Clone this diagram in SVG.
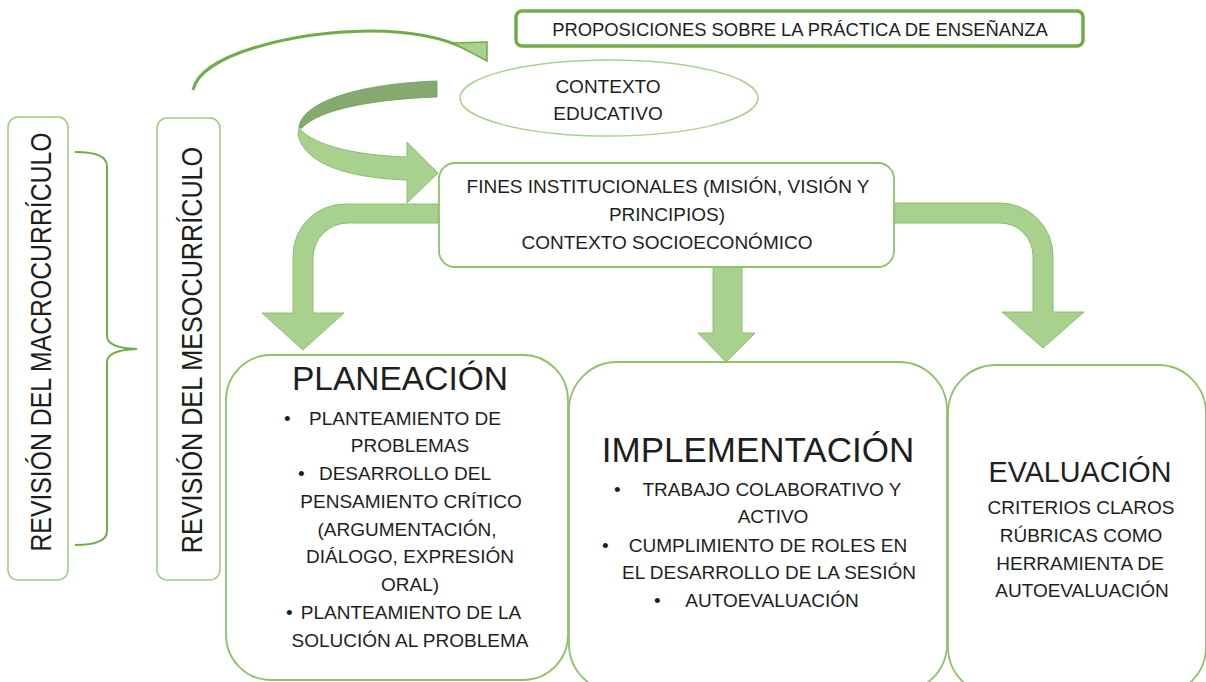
<svg xmlns="http://www.w3.org/2000/svg" width="1206" height="682" viewBox="0 0 1206 682">
<style>
.t{font-family:"Liberation Sans",Arial,sans-serif;fill:#1e1e1e}
.s{font-size:19px}
.m{text-anchor:middle}
.box{fill:#fff;stroke:#8DC26B;stroke-width:1.8}
.arr{fill:#A9D18E;stroke:#8CBF6C;stroke-width:1}
</style>
<rect width="1206" height="682" fill="#fff"/>

<g id="connectors">
  <path d="M193,90 C200,55 290,32 370,31 C415,31 445,38 468,50" fill="none" stroke="#70AD47" stroke-width="3"/>
  <polygon points="453,43 487,42 487,61" fill="#A9D18E" stroke="#70AD47" stroke-width="1.5"/>
  <path d="M437,81 L437,97 C380,99 320,108 302,128 L299,128 C300,105 350,84 437,81 Z" fill="#86A970" stroke="#739B5B" stroke-width="0.8"/>
  <path d="M299,128 C310,142 345,155 407,157 L407,142 L438,173 L407,203 L407,180 C350,178 305,165 298,135 Z" class="arr"/>
  <path d="M438,204 L345,204 A52,52 0 0 0 293,256 L293,313 L262,313 L303,350 L344,313 L313,313 L313,258 A35,35 0 0 1 348,223 L438,223 Z" class="arr"/>
  <path d="M713,267 L742,267 L742,333 L755,333 L726,362 L698,333 L713,333 Z" class="arr"/>
  <path d="M895,203 L1000,203 A53,53 0 0 1 1053,256 L1053,312 L1084,312 L1043,348 L1002,312 L1033,312 L1033,256 A33,33 0 0 0 1000,223 L895,223 Z" class="arr"/>
  <path d="M75,152 Q107,152 107,166 L107,336 Q107,348 137,349 Q107,350 107,362 L107,531 Q107,545 75,545" fill="none" stroke="#70AD47" stroke-width="2"/>
</g>

<g id="proposiciones">
  <rect x="516" y="11" width="567" height="35" rx="6" fill="#fff" stroke="#70AD47" stroke-width="3.5"/>
  <text class="t m" x="800" y="36" font-size="18.4">PROPOSICIONES SOBRE LA PRÁCTICA DE ENSEÑANZA</text>
</g>

<g id="contexto">
  <ellipse cx="609" cy="98" rx="149" ry="38" fill="#fff" stroke="#A9D18E" stroke-width="1.5"/>
  <text class="t s m" x="608" y="93">CONTEXTO</text>
  <text class="t s m" x="608" y="120">EDUCATIVO</text>
</g>

<g id="fines">
  <rect x="439" y="163" width="455" height="104" rx="16" class="box"/>
  <text class="t s m" x="668" y="193">FINES INSTITUCIONALES (MISIÓN, VISIÓN Y</text>
  <text class="t s m" x="667" y="221">PRINCIPIOS)</text>
  <text class="t s m" x="667" y="249">CONTEXTO SOCIOECONÓMICO</text>
</g>

<g id="macro">
  <rect x="8" y="117" width="60" height="463" rx="10" fill="#fff" stroke="#9CCB7F" stroke-width="1.5"/>
  <text class="t m" font-size="24.8" transform="translate(51,342) rotate(-90) scale(1,1.2)">REVISIÓN DEL MACROCURRÍCULO</text>
</g>

<g id="meso">
  <rect x="157" y="118" width="63" height="462" rx="10" fill="#fff" stroke="#9CCB7F" stroke-width="1.5"/>
  <text class="t m" font-size="25.2" transform="translate(202,350) rotate(-90) scale(1,1.2)">REVISIÓN DEL MESOCURRÍCULO</text>
</g>

<g id="planeacion">
  <rect x="226" y="355" width="342" height="325" rx="45" class="box"/>
  <text class="t m" x="400" y="390" font-size="33.5">PLANEACIÓN</text>
  <text class="t s" x="284" y="425">•</text>
  <text class="t s m" x="405" y="425">PLANTEAMIENTO DE</text>
  <text class="t s m" x="410" y="452">PROBLEMAS</text>
  <text class="t s" x="298" y="480">•</text>
  <text class="t s m" x="405" y="480">DESARROLLO DEL</text>
  <text class="t s m" x="411" y="508">PENSAMIENTO CRÍTICO</text>
  <text class="t s m" x="407" y="536">(ARGUMENTACIÓN,</text>
  <text class="t s m" x="410" y="563">DIÁLOGO, EXPRESIÓN</text>
  <text class="t s m" x="410" y="591">ORAL)</text>
  <text class="t s" x="286" y="619">•</text>
  <text class="t s m" x="411" y="619">PLANTEAMIENTO DE LA</text>
  <text class="t s m" x="410" y="647">SOLUCIÓN AL PROBLEMA</text>
</g>

<g id="implementacion">
  <rect x="569" y="362" width="378" height="330" rx="48" class="box"/>
  <text class="t m" x="758" y="462" font-size="35">IMPLEMENTACIÓN</text>
  <text class="t s" x="614" y="496">•</text>
  <text class="t s m" x="772" y="496">TRABAJO COLABORATIVO Y</text>
  <text class="t s m" x="773" y="523">ACTIVO</text>
  <text class="t s" x="602" y="552">•</text>
  <text class="t s m" x="768" y="552">CUMPLIMIENTO DE ROLES EN</text>
  <text class="t s m" x="769" y="579">EL DESARROLLO DE LA SESIÓN</text>
  <text class="t s" x="654" y="607">•</text>
  <text class="t s m" x="772" y="607">AUTOEVALUACIÓN</text>
</g>

<g id="evaluacion">
  <rect x="948" y="365" width="258" height="330" rx="48" class="box"/>
  <text class="t m" x="1080" y="482" font-size="28.7">EVALUACIÓN</text>
  <text class="t s m" x="1081" y="514">CRITERIOS CLAROS</text>
  <text class="t s m" x="1081" y="542">RÚBRICAS COMO</text>
  <text class="t s m" x="1080" y="570">HERRAMIENTA DE</text>
  <text class="t s m" x="1082" y="597">AUTOEVALUACIÓN</text>
</g>
</svg>
